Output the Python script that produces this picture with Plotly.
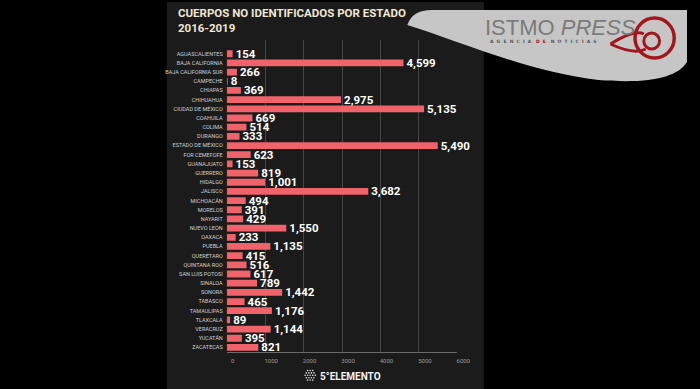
import plotly.graph_objects as go

estados = ["AGUASCALIENTES", "BAJA CALIFORNIA", "BAJA CALIFORNIA SUR", "CAMPECHE", "CHIAPAS",
           "CHIHUAHUA", "CIUDAD DE MÉXICO", "COAHUILA", "COLIMA", "DURANGO",
           "ESTADO DE MÉXICO", "FOR CEMEFOFE", "GUANAJUATO", "GUERRERO", "HIDALGO",
           "JALISCO", "MICHOACÁN", "MORELOS", "NAYARIT", "NUEVO LEÓN",
           "OAXACA", "PUEBLA", "QUERÉTARO", "QUINTANA ROO", "SAN LUIS POTOSÍ",
           "SINALOA", "SONORA", "TABASCO", "TAMAULIPAS", "TLAXCALA",
           "VERACRUZ", "YUCATÁN", "ZACATECAS"]
cuerpos = [154, 4599, 266, 8, 369,
           2975, 5135, 669, 514, 333,
           5490, 623, 153, 819, 1001,
           3682, 494, 391, 429, 1550,
           233, 1135, 415, 516, 617,
           789, 1442, 465, 1176, 89,
           1144, 395, 821]
x_ticks = [0, 1000, 2000, 3000, 4000, 5000, 6000]
x_ticklabels = ["0", "1000", "2000", "3000", "4000", "5000", "6000"]

W, H = 700, 389
def px(x):
    return x / W
def py(y):
    return 1 - y / H

fig = go.Figure()
fig.add_trace(go.Bar(
    y=estados, x=cuerpos, orientation="h",
    marker=dict(color="#f0636a", line=dict(width=0)),
    width=0.74,
    text=[f"{v:,}" for v in cuerpos],
    textposition="outside",
    constraintext="none",
    textfont=dict(family="Roboto", size=11.5, color="#ffffff", weight="bold"),
    cliponaxis=False,
    hoverinfo="skip",
))

shapes = []
# dark panel
shapes.append(dict(type="rect", xref="paper", yref="paper", x0=px(170), x1=px(493), y0=py(389), y1=py(2),
                   fillcolor="#1b1b1b", line=dict(width=0), layer="below"))
# logo swoosh
shapes.append(dict(type="path", xref="paper", yref="paper",
                   path=(f"M {px(415)},{py(25)} Q {px(420)},{py(10)} {px(440)},{py(10)} L {px(700)},{py(10)} "
                         f"L {px(700)},{py(62)} C {px(690)},{py(78)} {px(660)},{py(84)} {px(610)},{py(80)} "
                         f"C {px(540)},{py(72)} {px(470)},{py(42)} {px(415)},{py(25)} Z"),
                   fillcolor="#c6c6c6", line=dict(width=0), layer="above"))
# red swirl
def circle(cx, cy, r, color, w):
    return dict(type="circle", xref="paper", yref="paper",
                x0=px(cx - r), x1=px(cx + r), y0=py(cy + r), y1=py(cy - r),
                line=dict(color=color, width=w), layer="above")
shapes.append(circle(667, 38, 20, "#a3161b", 3.5))
shapes.append(circle(664, 41, 8, "#a3161b", 3))
shapes.append(dict(type="path", xref="paper", yref="paper",
                   path=(f"M {px(622)},{py(44)} C {px(635)},{py(36)} {px(648)},{py(30)} {px(656)},{py(34)} "
                         f"M {px(622)},{py(44)} C {px(635)},{py(50)} {px(648)},{py(54)} {px(658)},{py(49)}"),
                   line=dict(color="#a3161b", width=3), layer="above"))
# footer hexagon of dots
for row, n in enumerate([3, 4, 5, 4, 3]):
    for k in range(n):
        cx = 316 + (k - (n - 1) / 2) * 2.6
        cy = 370.5 + row * 2.4
        shapes.append(dict(type="circle", xref="paper", yref="paper",
                           x0=px(cx - 0.8), x1=px(cx + 0.8), y0=py(cy + 0.8), y1=py(cy - 0.8),
                           fillcolor="#e8e8e8", line=dict(width=0), layer="above"))

annotations = [
    dict(text="CUERPOS NO IDENTIFICADOS POR ESTADO<br>2016-2019", xref="paper", yref="paper",
         x=px(179), y=py(4), xanchor="left", yanchor="top", align="left", showarrow=False,
         font=dict(family="Roboto", size=11.5, color="#efe7d4", weight="bold")),
    dict(text="ISTMO <i>PRESS</i>", xref="paper", yref="paper",
         x=px(492), y=py(27), xanchor="left", yanchor="middle", showarrow=False,
         font=dict(family="Liberation Sans", size=22, color="#7a7a7a")),
    dict(text="A  G  E  N  C  I  A   <span style='color:#a3161b'>D  E</span>   N  O  T  I  C  I  A  S", xref="paper", yref="paper",
         x=px(497), y=py(41), xanchor="left", yanchor="middle", showarrow=False,
         font=dict(family="DejaVu Sans", size=4.5, color="#555555", weight="bold")),
    dict(text="5°ELEMENTO", xref="paper", yref="paper",
         x=px(324), y=py(376), xanchor="left", yanchor="middle", showarrow=False,
         font=dict(family="Roboto", size=10, color="#f2f2f2", weight="bold")),
]

fig.update_layout(
    width=W, height=H,
    margin=dict(l=0, r=0, t=0, b=0),
    paper_bgcolor="#000000", plot_bgcolor="rgba(0,0,0,0)",
    showlegend=False,
    shapes=shapes,
    annotations=annotations,
    xaxis=dict(domain=[px(231), px(466)], range=[0, 6000], tickvals=x_ticks, ticktext=x_ticklabels,
               showgrid=True, gridcolor="#464646", gridwidth=1, zeroline=False,
               showline=True, linecolor="#6a6a6a", linewidth=1,
               tickfont=dict(family="Roboto", size=6, color="#9c9c9c"), ticks="",
               ticklabelstandoff=3, ticklabelshift=6),
    yaxis=dict(domain=[py(352), py(40)], range=[32.5, -1.5], type="category",
               showgrid=False, zeroline=False, showline=False, ticks="",
               tickfont=dict(family="Roboto", size=5.5, color="#cfcfcf"), ticklabelstandoff=3),
)

fig.write_html(
    "out.html",
    config={"displayModeBar": False},
    post_script=("document.body.style.margin='0';document.body.style.background='#000';"
                 "document.body.style.overflow='hidden';document.documentElement.style.overflow='hidden';"),
)
